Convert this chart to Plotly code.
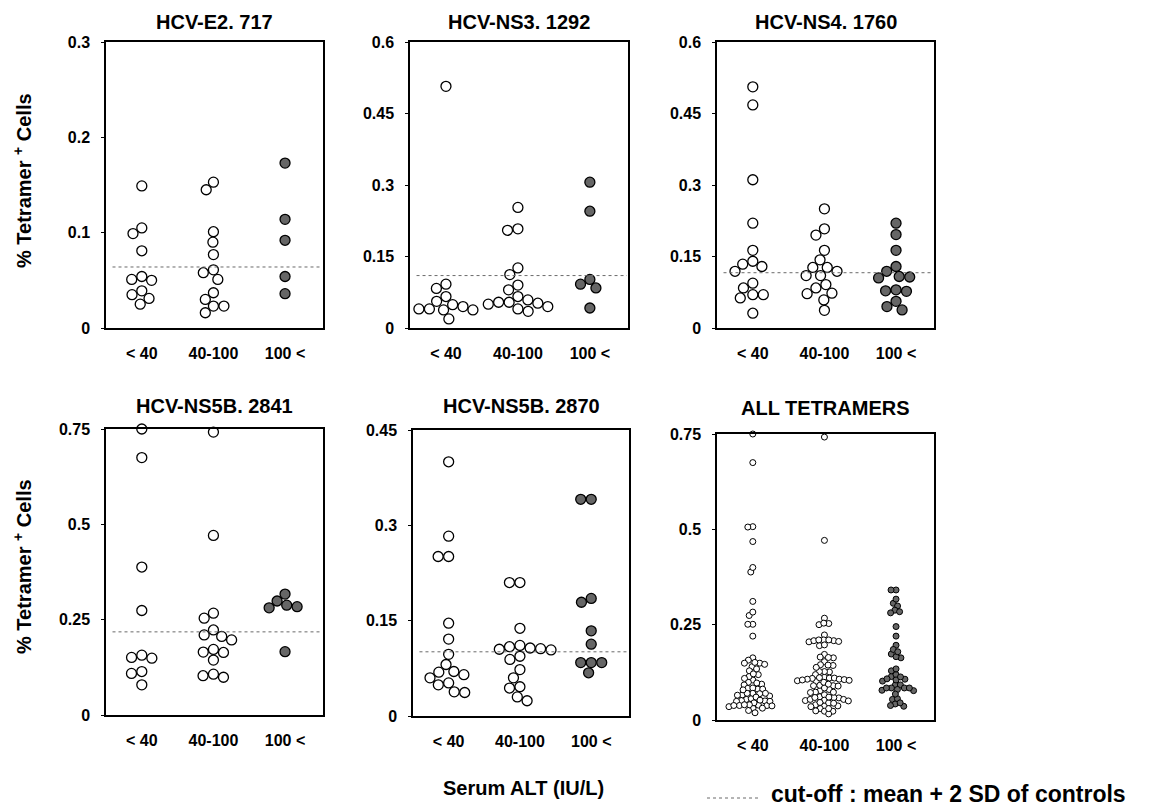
import numpy as np
import plotly.graph_objects as go

# ---------------- data ----------------
GROUPS = ["< 40", "40-100", "100 <"]

TITLES = ["HCV-E2. 717", "HCV-NS3. 1292", "HCV-NS4. 1760",
          "HCV-NS5B. 2841", "HCV-NS5B. 2870", "ALL TETRAMERS"]

E2_717_LOW = [0.149, 0.105, 0.099, 0.081, 0.054, 0.051, 0.050, 0.039, 0.035, 0.031, 0.025]
E2_717_MID = [0.153, 0.145, 0.101, 0.090, 0.077, 0.061, 0.058, 0.051, 0.037, 0.030, 0.023, 0.023, 0.016]
E2_717_HIGH = [0.173, 0.114, 0.092, 0.054, 0.036]

NS3_1292_LOW = [0.507, 0.092, 0.083, 0.066, 0.056, 0.049, 0.045, 0.040, 0.038, 0.038, 0.040, 0.019]
NS3_1292_MID = [0.253, 0.208, 0.205, 0.126, 0.112, 0.090, 0.080, 0.066, 0.059, 0.054, 0.054,
                0.052, 0.050, 0.045, 0.040, 0.035]
NS3_1292_HIGH = [0.306, 0.245, 0.102, 0.092, 0.084, 0.042]

NS4_1760_LOW = [0.506, 0.468, 0.311, 0.220, 0.163, 0.140, 0.134, 0.129, 0.119, 0.094, 0.084,
                0.070, 0.070, 0.063, 0.031]
NS4_1760_MID = [0.250, 0.208, 0.195, 0.163, 0.143, 0.127, 0.127, 0.119, 0.110, 0.110, 0.091,
                0.084, 0.073, 0.072, 0.059, 0.037]
NS4_1760_HIGH = [0.220, 0.196, 0.163, 0.129, 0.119, 0.108, 0.107, 0.105, 0.078, 0.077, 0.080,
                 0.056, 0.045, 0.038]

NS5B_2841_LOW = [0.750, 0.675, 0.388, 0.274, 0.157, 0.151, 0.149, 0.114, 0.109, 0.079]
NS5B_2841_MID = [0.742, 0.471, 0.267, 0.254, 0.223, 0.210, 0.206, 0.197, 0.172, 0.165, 0.164,
                 0.144, 0.107, 0.103, 0.099]
NS5B_2841_HIGH = [0.317, 0.299, 0.288, 0.284, 0.281, 0.166]

NS5B_2870_LOW = [0.400, 0.283, 0.251, 0.251, 0.146, 0.121, 0.097, 0.081, 0.070, 0.069, 0.065,
                 0.060, 0.052, 0.049, 0.038, 0.037]
NS5B_2870_MID = [0.210, 0.210, 0.138, 0.111, 0.109, 0.107, 0.106, 0.105, 0.104, 0.094, 0.089,
                 0.073, 0.060, 0.046, 0.044, 0.030, 0.024]
NS5B_2870_HIGH = [0.341, 0.341, 0.185, 0.179, 0.134, 0.113, 0.084, 0.084, 0.084, 0.068]

# "ALL TETRAMERS" pools the five single-tetramer panels
ALL_LOW = E2_717_LOW + NS3_1292_LOW + NS4_1760_LOW + NS5B_2841_LOW + NS5B_2870_LOW
ALL_MID = E2_717_MID + NS3_1292_MID + NS4_1760_MID + NS5B_2841_MID + NS5B_2870_MID
ALL_HIGH = E2_717_HIGH + NS3_1292_HIGH + NS4_1760_HIGH + NS5B_2841_HIGH + NS5B_2870_HIGH

PANEL_DATA = [
    [E2_717_LOW, E2_717_MID, E2_717_HIGH],
    [NS3_1292_LOW, NS3_1292_MID, NS3_1292_HIGH],
    [NS4_1760_LOW, NS4_1760_MID, NS4_1760_HIGH],
    [NS5B_2841_LOW, NS5B_2841_MID, NS5B_2841_HIGH],
    [NS5B_2870_LOW, NS5B_2870_MID, NS5B_2870_HIGH],
    [ALL_LOW, ALL_MID, ALL_HIGH],
]

Y_MAX = [0.3, 0.6, 0.6, 0.75, 0.45, 0.75]
Y_TICKS = [
    [0, 0.1, 0.2, 0.3],
    [0, 0.15, 0.3, 0.45, 0.6],
    [0, 0.15, 0.3, 0.45, 0.6],
    [0, 0.25, 0.5, 0.75],
    [0, 0.15, 0.3, 0.45],
    [0, 0.25, 0.5, 0.75],
]
Y_TICK_TEXT = [
    ["0", "0.1", "0.2", "0.3"],
    ["0", "0.15", "0.3", "0.45", "0.6"],
    ["0", "0.15", "0.3", "0.45", "0.6"],
    ["0", "0.25", "0.5", "0.75"],
    ["0", "0.15", "0.3", "0.45"],
    ["0", "0.25", "0.5", "0.75"],
]
CUTOFF = [0.064, 0.110, 0.116, 0.218, 0.101, None]

# ---------------- layout geometry ----------------
W, H = 1156, 809
# (left, right, top, bottom) in pixels
PANEL_PX = [
    (106, 323, 42, 328),
    (410, 628, 42, 328),
    (717, 934, 42, 328),
    (106, 323, 429, 715),
    (413, 629, 430, 716),
    (717, 934, 434, 720),
]
TITLE_Y = [22, 22, 22, 406, 406, 408]
X_RANGE = [-0.5, 2.53]

FONT = "Liberation Sans, Arial, Helvetica, sans-serif"


def swarm_offsets(vals, ypu, xpu, diam):
    vals = list(vals)
    order = np.argsort(-np.asarray(vals), kind="stable")
    placed = []
    out = np.zeros(len(vals))
    for i in order:
        y = vals[i] * ypu
        cands = [0.0]
        for px, py in placed:
            dy = abs(py - y)
            if dy < diam:
                dx = np.sqrt(diam ** 2 - dy ** 2)
                cands += [px + dx + 1e-6, px - dx - 1e-6]
        best = 0.0
        for c in sorted(cands, key=lambda c: (abs(c), c)):
            if all((c - px) ** 2 + (y - py) ** 2 >= diam ** 2 - 1e-3 for px, py in placed):
                best = c
                break
        placed.append((best, y))
        out[i] = best / xpu
    return out


fig = go.Figure()
layout = dict(width=W, height=H, margin=dict(l=0, r=0, t=0, b=0, pad=0),
              paper_bgcolor="white", plot_bgcolor="white", showlegend=False,
              font=dict(family=FONT, color="black"))
annotations = []
shapes = []

for p in range(6):
    l, r, t, b = PANEL_PX[p]
    xd = [l / W, r / W]
    yd = [1 - b / H, 1 - t / H]
    suffix = "" if p == 0 else str(p + 1)
    xpu = (r - l) / (X_RANGE[1] - X_RANGE[0])
    ypu = (b - t) / Y_MAX[p]
    small = p == 5
    msize = 6 if small else 10
    mline = 1.0 if small else 1.3
    diam = 5.0 if small else 10.5
    for g in range(3):
        vals = PANEL_DATA[p][g]
        offs = swarm_offsets(vals, ypu, xpu, diam)
        fill = "#666666" if g == 2 else "white"
        fig.add_trace(go.Scatter(
            x=g + offs, y=vals, mode="markers", cliponaxis=False,
            xaxis="x" + suffix, yaxis="y" + suffix,
            marker=dict(size=msize, color=fill, line=dict(color="black", width=mline)),
            hoverinfo="y"))
    layout["xaxis" + suffix] = dict(
        domain=xd, anchor="y" + suffix, range=X_RANGE, automargin=False,
        tickmode="array", tickvals=[0, 1, 2], ticktext=GROUPS,
        ticks="", ticklabelstandoff=10,
        tickfont=dict(family=FONT, size=16, color="black", weight="bold"),
        showline=True, mirror=True, linecolor="black", linewidth=1.5,
        showgrid=False, zeroline=False, fixedrange=True)
    layout["yaxis" + suffix] = dict(
        domain=yd, anchor="x" + suffix, range=[0, Y_MAX[p]], automargin=False,
        tickmode="array", tickvals=Y_TICKS[p], ticktext=Y_TICK_TEXT[p],
        ticks="outside", ticklen=3, tickwidth=1, tickcolor="black", ticklabelstandoff=8,
        tickfont=dict(family=FONT, size=16, color="black", weight="bold"),
        showline=True, mirror=True, linecolor="black", linewidth=1.5,
        showgrid=False, zeroline=False, fixedrange=True)
    if CUTOFF[p] is not None:
        shapes.append(dict(type="line", xref="x" + suffix + " domain", yref="y" + suffix,
                           x0=0.03, x1=0.995, y0=CUTOFF[p], y1=CUTOFF[p],
                           line=dict(color="#6a6a6a", width=1, dash="dot")))
    annotations.append(dict(
        text="<b>" + TITLES[p] + "</b>", xref="paper", yref="paper",
        x=(l + r) / 2 / W, y=1 - TITLE_Y[p] / H, xanchor="center", yanchor="middle",
        showarrow=False, font=dict(family=FONT, size=20, color="black")))

for yc in [181, 567]:
    annotations.append(dict(
        text="<b>% Tetramer <sup>+</sup> Cells</b>", xref="paper", yref="paper",
        x=22 / W, y=1 - yc / H, xanchor="center", yanchor="middle", textangle=-90,
        showarrow=False, font=dict(family=FONT, size=20, color="black")))

annotations.append(dict(
    text="<b>Serum ALT (IU/L)</b>", xref="paper", yref="paper",
    x=523 / W, y=1 - 788 / H, xanchor="center", yanchor="middle",
    showarrow=False, font=dict(family=FONT, size=20, color="black")))
annotations.append(dict(
    text="<b>cut-off : mean + 2 SD of controls</b>", xref="paper", yref="paper",
    x=769 / W, y=1 - 794 / H, xanchor="left", yanchor="middle",
    showarrow=False, font=dict(family=FONT, size=23, color="black")))
shapes.append(dict(type="line", xref="paper", yref="paper",
                   x0=707 / W, x1=761 / W, y0=1 - 798 / H, y1=1 - 798 / H,
                   line=dict(color="#6a6a6a", width=1, dash="dot")))

layout["annotations"] = annotations
layout["shapes"] = shapes
fig.update_layout(**layout)
fig.write_html("out.html",
               config={"displayModeBar": False},
               post_script="document.body.style.margin='0px';"
                           "document.body.style.overflow='hidden';")
